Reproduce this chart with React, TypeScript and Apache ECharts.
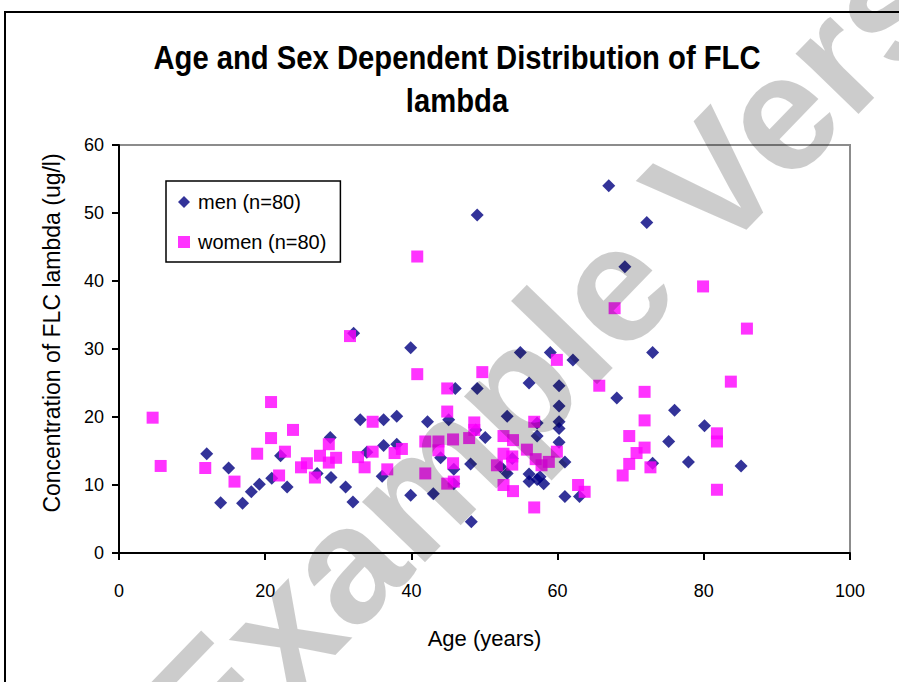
import React, { useEffect, useRef } from "react";
import * as echarts from "echarts";

const titleLine1 = "Age and Sex Dependent Distribution of FLC";
const titleLine2 = "lambda";
const xAxisName = "Age (years)";
const yAxisName = "Concentration of FLC lambda (ug/l)";
const menName = "men (n=80)";
const womenName = "women (n=80)";
const watermark = "Example Version";

const menAge = [12.0, 15.0, 13.9, 16.9, 18.1, 19.2, 20.9, 23.0, 22.1, 28.9, 27.1, 29.0, 31.0, 32.0, 33.0, 32.1, 39.9, 54.9, 59.0, 62.1, 46.0, 49.0, 56.1, 60.2, 60.2, 36.2, 38.0, 42.2, 45.1, 53.1, 57.2, 60.2, 60.2, 57.2, 60.2, 50.1, 48.8, 36.2, 38.0, 33.9, 44.0, 48.1, 53.8, 61.0, 36.0, 45.8, 53.1, 56.1, 57.2, 58.1, 56.1, 39.9, 43.0, 61.0, 63.0, 48.2, 49.0, 67.0, 72.2, 69.2, 73.0, 68.1, 76.0, 80.1, 75.2, 73.0, 77.9, 85.1, 45.8, 52.2, 57.6];
const menConc = [14.6, 12.5, 7.4, 7.3, 9.0, 10.1, 11.0, 9.7, 14.3, 17.0, 11.7, 11.1, 9.7, 7.5, 19.6, 32.3, 30.2, 29.5, 29.5, 28.4, 24.2, 24.2, 25.0, 24.6, 21.6, 19.6, 20.1, 19.3, 19.6, 20.1, 19.1, 19.3, 18.3, 17.2, 16.3, 17.0, 18.1, 15.8, 16.0, 14.8, 14.0, 13.1, 13.9, 13.4, 11.3, 10.2, 11.7, 11.6, 10.8, 10.2, 10.5, 8.5, 8.7, 8.3, 8.3, 4.6, 49.7, 54.0, 48.6, 42.1, 29.5, 22.8, 21.0, 18.7, 16.4, 13.2, 13.4, 12.8, 12.3, 12.7, 11.2];

const womenAge = [4.6, 5.7, 11.8, 15.8, 18.9, 20.8, 20.8, 23.8, 22.7, 21.9, 24.9, 25.7, 26.8, 27.5, 28.7, 28.7, 29.7, 32.7, 31.6, 33.6, 40.8, 49.7, 44.9, 44.9, 34.7, 48.6, 48.6, 47.9, 56.8, 52.6, 53.9, 55.8, 59.9, 41.9, 43.7, 45.7, 43.7, 38.7, 37.7, 34.7, 36.7, 52.6, 53.8, 53.8, 51.7, 57.0, 57.8, 58.8, 45.7, 41.9, 44.9, 45.8, 52.6, 53.9, 56.8, 62.8, 63.7, 65.7, 40.8, 79.9, 67.8, 85.9, 59.9, 71.9, 83.7, 71.9, 69.8, 81.8, 81.8, 71.9, 70.8, 69.8, 72.7, 68.9, 81.8];
const womenConc = [19.9, 12.8, 12.5, 10.5, 14.6, 22.2, 16.9, 18.1, 14.9, 11.4, 12.6, 13.2, 11.1, 14.3, 16.0, 13.3, 14.0, 14.1, 31.9, 12.6, 26.3, 26.6, 24.2, 20.8, 19.3, 19.2, 18.1, 16.9, 19.3, 17.2, 16.6, 15.2, 14.9, 16.4, 16.4, 16.7, 15.1, 15.3, 14.7, 14.9, 12.3, 14.6, 14.2, 13.0, 12.9, 13.8, 12.9, 13.4, 13.2, 11.7, 10.2, 10.5, 10.0, 9.1, 6.7, 10.0, 9.0, 24.6, 43.6, 39.2, 36.0, 33.0, 28.4, 23.7, 25.2, 19.5, 17.2, 17.6, 16.4, 15.5, 14.7, 13.1, 12.6, 11.4, 9.3];

const FONT = "'Liberation Sans', Arial, sans-serif";

export default function App() {
  const ref = useRef<HTMLDivElement>(null);
  useEffect(() => {
    if (!ref.current) return;
    const chart = echarts.init(ref.current, null, { renderer: "svg" });
    const rot = (46 * Math.PI) / 180;
    chart.setOption({
      animation: false,
      backgroundColor: "#fff",
      legend: {
        orient: "vertical",
        left: 166,
        top: 181,
        backgroundColor: "#fff",
        borderColor: "#000",
        borderWidth: 1.5,
        borderRadius: 0,
        padding: [11, 14, 10, 12],
        itemGap: 20,
        itemWidth: 12,
        itemHeight: 12,
        textStyle: { fontFamily: FONT, fontSize: 20, color: "#000", padding: [0, 0, 0, 3] },
        data: [menName, womenName],
      },
      grid: {
        left: 119,
        top: 145,
        right: 49,
        bottom: 129,
        show: true,
        borderColor: "#8c8c8c",
        borderWidth: 2,
        backgroundColor: "transparent",
      },
      xAxis: {
        type: "value",
        min: 0,
        max: 100,
        interval: 20,
        name: xAxisName,
        nameLocation: "middle",
        nameGap: 74,
        nameTextStyle: { fontFamily: FONT, fontSize: 22, color: "#000" },
        axisLine: { show: true, onZero: false, lineStyle: { color: "#000", width: 2 } },
        axisTick: { show: true, inside: false, length: 7, lineStyle: { color: "#000", width: 2 } },
        axisLabel: { margin: 29, fontFamily: FONT, fontSize: 18, color: "#000" },
        splitLine: { show: false },
      },
      yAxis: {
        type: "value",
        min: 0,
        max: 60,
        interval: 10,
        axisLine: { show: true, onZero: false, lineStyle: { color: "#000", width: 2 } },
        axisTick: { show: true, inside: false, length: 7, lineStyle: { color: "#000", width: 2 } },
        axisLabel: { margin: 15, fontFamily: FONT, fontSize: 18, color: "#000" },
        splitLine: { show: false },
      },
      series: [
        {
          name: menName,
          type: "scatter",
          symbol: "diamond",
          symbolSize: 13,
          itemStyle: { color: "#000080" },
          data: menAge.map((a, i) => [a, menConc[i]]),
        },
        {
          name: womenName,
          type: "scatter",
          symbol: "rect",
          symbolSize: 12,
          itemStyle: { color: "#ff00ff" },
          data: womenAge.map((a, i) => [a, womenConc[i]]),
        },
      ],
      graphic: [
        {
          type: "text",
          silent: true,
          x: 457,
          y: 57,
          scaleX: 0.86,
          style: {
            text: titleLine1,
            fontFamily: FONT,
            fontSize: 34,
            fontWeight: "bold",
            fill: "#000",
            align: "center",
            verticalAlign: "middle",
          },
        },
        {
          type: "text",
          silent: true,
          x: 457,
          y: 100,
          scaleX: 0.86,
          style: {
            text: titleLine2,
            fontFamily: FONT,
            fontSize: 34,
            fontWeight: "bold",
            fill: "#000",
            align: "center",
            verticalAlign: "middle",
          },
        },
        {
          type: "text",
          silent: true,
          x: 52,
          y: 333,
          rotation: Math.PI / 2,
          style: {
            text: yAxisName,
            fontFamily: FONT,
            fontSize: 23,
            fill: "#000",
            align: "center",
            verticalAlign: "middle",
          },
        },
        {
          type: "rect",
          z: 90,
          silent: true,
          shape: { x: 5, y: 12, width: 1000, height: 1000 },
          style: { fill: "none", stroke: "#000", lineWidth: 2 },
        },
        {
          type: "text",
          z: 100,
          silent: true,
          x: 172,
          y: 742,
          rotation: rot,
          style: {
            text: watermark,
            fontFamily: FONT,
            fontSize: 165,
            fontWeight: "bold",
            fill: "rgba(0,0,0,0.2)",
            align: "left",
            verticalAlign: "middle",
          },
        },
      ],
    });
    return () => chart.dispose();
  }, []);
  return (
    <div
      ref={ref}
      style={{ position: "fixed", left: 0, top: 0, width: 899, height: 682 }}
    />
  );
}
